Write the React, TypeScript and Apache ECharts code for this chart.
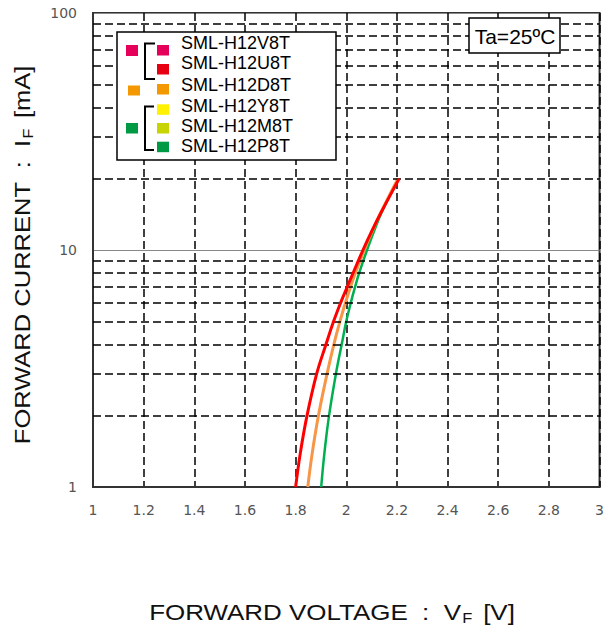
import React, { useEffect, useRef } from "react";
import * as echarts from "echarts";

// Forward current (mA) sample levels and forward voltage (V)
const currentIF = [1, 1.4, 2, 3, 4, 5, 6, 7, 8, 10, 12.1, 14.3, 20];
const redVF = [1.8, 1.819, 1.845, 1.883, 1.92, 1.95, 1.978, 2.004, 2.027, 2.066, 2.102, 2.136, 2.209];
const orangeVF = [1.848, 1.866, 1.89, 1.924, 1.951, 1.975, 1.997, 2.017, 2.036, 2.071, 2.104, 2.135, 2.204];
const greenVF = [1.901, 1.914, 1.932, 1.959, 1.982, 2.0, 2.018, 2.035, 2.051, 2.082, 2.111, 2.138, 2.205];

const minorGridIF = [2, 3, 4, 5, 6, 7, 8, 9, 20, 30, 40, 50, 60, 70, 80, 90];

const legendNames = ["SML-H12V8T", "SML-H12U8T", "SML-H12D8T", "SML-H12Y8T", "SML-H12M8T", "SML-H12P8T"];
const legendColors = ["#E5005A", "#E60012", "#F39800", "#FFF100", "#C8D400", "#009944"];

const xTitle = "FORWARD VOLTAGE  :  V";
const yTitle = "FORWARD CURRENT  :  I";

function pairs(xs: number[], ys: number[]) {
  return xs.map((x, i) => [x, ys[i]]);
}

export default function App() {
  const ref = useRef<HTMLDivElement>(null);
  useEffect(() => {
    if (!ref.current) return;
    const chart = echarts.init(ref.current, undefined, { renderer: "svg" });
    const dash = [8, 4];
    const textFont = "Liberation Sans, Arial, sans-serif";
    const legendTextY = [42.5, 63.3, 85, 105.8, 125.8, 145.8];
    const legendSqY = [45, 64, 84, 104.3, 123, 141.7];
    const subStyle = {
      fontSize: 14,
      lineHeight: 14,
      verticalAlign: "bottom",
      fontFamily: textFont,
      fill: "#111",
      padding: [0, 3, 0, 1],
    };
    const graphics: any[] = [
      {
        type: "rect",
        z: 100,
        shape: { x: 117, y: 32, width: 219, height: 128 },
        style: { fill: "#fff", stroke: "#000", lineWidth: 1.5 },
      },
      { type: "rect", z: 101, shape: { x: 126, y: 45, width: 12, height: 11 }, style: { fill: "#E5005A" } },
      { type: "rect", z: 101, shape: { x: 128, y: 85.5, width: 12, height: 10 }, style: { fill: "#F39800" } },
      { type: "rect", z: 101, shape: { x: 126, y: 123, width: 12, height: 10.5 }, style: { fill: "#009944" } },
      {
        type: "polyline",
        z: 101,
        shape: { points: [[155, 43.5], [145, 43.5], [145, 79], [155, 79]] },
        style: { stroke: "#000", lineWidth: 2, fill: null },
      },
      {
        type: "polyline",
        z: 101,
        shape: { points: [[154, 106.5], [145, 106.5], [145, 150], [154, 150]] },
        style: { stroke: "#000", lineWidth: 2, fill: null },
      },
      {
        type: "rect",
        z: 100,
        shape: { x: 469, y: 18, width: 91, height: 35 },
        style: { fill: "#fff", stroke: "#000", lineWidth: 1.5 },
      },
      {
        type: "text",
        z: 101,
        x: 515,
        y: 36,
        style: {
          text: "Ta=25ºC",
          fill: "#000",
          fontSize: 21,
          fontFamily: textFont,
          align: "center",
          verticalAlign: "middle",
        },
      },
      {
        type: "text",
        z: 101,
        x: 332,
        y: 612,
        scaleX: 1.18,
        style: {
          text: xTitle + "{sub|F} [V]",
          fill: "#111",
          fontSize: 22,
          lineHeight: 26,
          fontFamily: textFont,
          align: "center",
          verticalAlign: "middle",
          rich: { sub: subStyle },
        },
      },
      {
        type: "text",
        z: 101,
        x: 22,
        y: 255,
        rotation: Math.PI / 2,
        scaleX: 1.16,
        style: {
          text: yTitle + "{sub|F} [mA]",
          fill: "#111",
          fontSize: 22,
          lineHeight: 26,
          fontFamily: textFont,
          align: "center",
          verticalAlign: "middle",
          rich: { sub: subStyle },
        },
      },
    ];
    legendNames.forEach((name, i) => {
      graphics.push({
        type: "rect",
        z: 101,
        shape: { x: 157, y: legendSqY[i], width: 12, height: 10.5 },
        style: { fill: legendColors[i] },
      });
      graphics.push({
        type: "text",
        z: 101,
        x: 181,
        y: legendTextY[i],
        style: {
          text: name,
          fill: "#000",
          fontSize: 18,
          fontFamily: textFont,
          align: "left",
          verticalAlign: "middle",
        },
      });
    });

    const curve = (name: string, color: string, xs: number[], w: number, z: number) => ({
      name,
      type: "line",
      data: pairs(xs, currentIF),
      smooth: 0.4,
      showSymbol: false,
      symbol: "none",
      z,
      lineStyle: { color, width: w },
      itemStyle: { color },
    });

    chart.setOption({
      animation: false,
      backgroundColor: "#fff",
      grid: {
        left: 93,
        right: 6,
        top: 13,
        bottom: 145,
        containLabel: false,
        show: true,
        borderColor: "#333",
        borderWidth: 2,
        backgroundColor: "transparent",
      },
      xAxis: {
        type: "value",
        min: 1,
        max: 3,
        interval: 0.2,
        axisLine: { show: true, lineStyle: { color: "#333", width: 2 } },
        axisTick: { show: false },
        axisLabel: {
          margin: 16,
          color: "#555",
          fontSize: 14,
          fontFamily: "DejaVu Sans, sans-serif",
          formatter: (v: number) => String(Math.round(v * 10) / 10),
        },
        splitLine: { show: true, lineStyle: { type: dash, color: "#000", width: 1.5 } },
      },
      yAxis: {
        type: "log",
        logBase: 10,
        min: 1,
        max: 100,
        axisLine: { show: true, lineStyle: { color: "#333", width: 2 } },
        axisTick: { show: false },
        axisLabel: {
          margin: 16,
          color: "#555",
          fontSize: 14,
          fontFamily: "DejaVu Sans, sans-serif",
        },
        splitLine: { show: true, lineStyle: { type: "solid", color: "#888", width: 1.2 } },
      },
      series: [
        {
          name: "grid",
          type: "line",
          data: [],
          z: 1,
          silent: true,
          markLine: {
            silent: true,
            symbol: "none",
            label: { show: false },
            lineStyle: { type: dash, color: "#000", width: 1.5 },
            data: minorGridIF.map((v) => ({ yAxis: v })),
          },
        },
        curve("green", "#00B050", greenVF, 2.5, 3),
        curve("orange", "#F79646", orangeVF, 3, 4),
        curve("red", "#FF0000", redVF, 3, 5),
      ],
      graphic: graphics,
    });
    return () => chart.dispose();
  }, []);
  return <div ref={ref} style={{ position: "fixed", left: 0, top: 0, width: 607, height: 632 }} />;
}
